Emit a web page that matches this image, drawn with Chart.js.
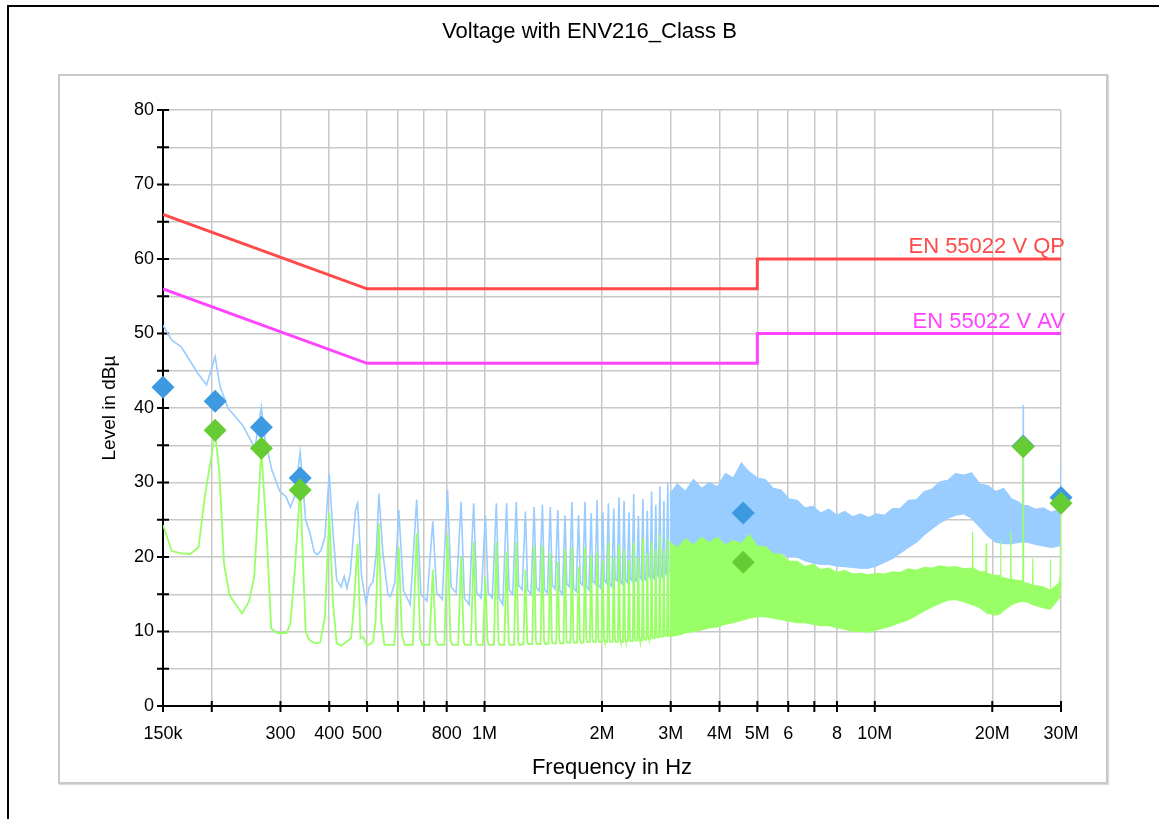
<!DOCTYPE html>
<html>
<head>
<meta charset="utf-8">
<title>Voltage with ENV216_Class B</title>
<script src="https://cdn.jsdelivr.net/npm/chart.js@4/dist/chart.umd.min.js"></script>
<style>
  body { margin: 0; background: #fff; overflow: hidden; }
  #outer { position: absolute; left: 7px; top: 5px; width: 1300px; height: 900px; border: 2px solid #000; }
  #frame { position: absolute; left: 58px; top: 74px; width: 1050px; height: 710px; box-sizing: border-box;
           border: 2px solid #c8c8c8; box-shadow: 1px 1px 1px #dcdcdc; }
  #wrap { position: absolute; left: 0; top: 0; width: 1159px; height: 819px; }
</style>
</head>
<body>
<div id="outer"></div>
<div id="frame"></div>
<div id="wrap"><canvas id="emcChart"></canvas></div>
<script>
// colours
const _QP = '#ff4a4a';
const _AV = '#ff44ff';
const _PEAK = '#99ccff';
const _AVG = '#99ff66';
const _PEAK_MARK = '#3d9ae0';
const _AVG_MARK = '#66cc33';
const FONT = "'Liberation Sans', Arial, Helvetica, sans-serif";

// frequencies in MHz, levels in dBµV
const xTickValues = [0.15, 0.2, 0.3, 0.4, 0.5, 0.6, 0.7, 0.8, 1, 2, 3, 4, 5, 6, 7, 8, 10, 20, 30];
const xTickLabels = ['150k', '', '300', '400', '500', '', '', '800', '1M', '2M', '3M', '4M', '5M', '6', '', '8', '10M', '20M', '30M'];

// limit lines
const limitNames = ['EN 55022 V QP', 'EN 55022 V AV'];
const limitFreq = [0.15, 0.5, 5, 5, 30];
const qpLevel = [66, 56, 56, 60, 60];
const avLevel = [56, 46, 46, 50, 50];

// peak detector trace (resolved harmonics)
const peakFreq = [
  0.150, 0.158, 0.167, 0.184, 0.194, 0.204, 0.210, 0.220, 0.240, 0.258,
  0.268, 0.274, 0.285, 0.299, 0.310, 0.318, 0.326, 0.337, 0.348, 0.357,
  0.366, 0.373, 0.381, 0.390, 0.400, 0.408, 0.418, 0.429, 0.437, 0.444,
  0.453, 0.467, 0.473, 0.484, 0.497, 0.507, 0.518, 0.528, 0.536, 0.549,
  0.566, 0.574, 0.589,
  0.603, 0.620, 0.645, 0.670, 0.687, 0.712, 0.737, 0.754, 0.779, 0.804, 0.821, 0.846, 0.871, 0.888, 0.913, 0.938, 0.955, 0.980,
  1.005, 1.022, 1.047, 1.072, 1.089, 1.114, 1.139, 1.156, 1.181, 1.206, 1.223, 1.248, 1.273, 1.290, 1.315, 1.340, 1.357, 1.382,
  1.407, 1.424, 1.449, 1.474, 1.491, 1.516, 1.541, 1.558, 1.583, 1.608, 1.625, 1.650, 1.675, 1.692, 1.717, 1.742, 1.759, 1.784,
  1.809, 1.826, 1.851, 1.876, 1.893, 1.918, 1.943, 1.960, 1.985, 2.010, 2.027, 2.052, 2.077, 2.094, 2.119, 2.144, 2.161, 2.186,
  2.211, 2.228, 2.253, 2.278, 2.295, 2.320, 2.345, 2.362, 2.387, 2.412, 2.429, 2.454, 2.479, 2.496, 2.521, 2.546, 2.563, 2.588,
  2.613, 2.630, 2.655, 2.680, 2.697, 2.722, 2.747, 2.764, 2.789, 2.814, 2.831, 2.856, 2.881, 2.898, 2.923, 2.948, 2.965
];
const peakLevel = [
  51.1, 49.1, 48.2, 44.7, 43.1, 46.9, 42.9, 40.0, 37.7, 34.6,
  40.1, 35.7, 31.7, 28.8, 28.1, 26.7, 28.1, 34.1, 25.0, 23.2,
  20.7, 20.3, 20.9, 22.7, 31.2, 24.1, 16.9, 16.0, 17.4, 15.8,
  17.8, 26.3, 27.2, 17.4, 13.8, 16.0, 16.7, 20.5, 28.5, 20.5,
  14.9, 14.7, 16.5,
  26.3, 15.5, 13.6, 27.7, 15.0, 14.1, 24.8, 15.2, 14.3, 29.0, 16.0, 15.2, 27.4, 14.5, 13.6, 27.2, 15.2, 14.5,
  25.6, 15.2, 14.5, 27.2, 14.5, 13.6, 27.2, 15.6, 15.0, 27.4, 16.2, 15.6, 26.1, 15.6, 15.0, 26.7, 15.9, 15.4,
  27.0, 15.6, 15.2, 26.7, 16.2, 15.7, 26.3, 15.5, 15.0, 25.6, 16.4, 16.0, 27.4, 15.8, 15.4, 25.6, 16.6, 16.2,
  27.4, 16.0, 15.6, 25.9, 16.8, 16.4, 27.6, 16.2, 15.8, 26.0, 16.9, 16.5, 27.2, 16.4, 16.0, 26.5, 17.0, 16.8,
  28.0, 16.8, 16.4, 27.5, 17.0, 16.6, 26.0, 17.2, 16.8, 28.5, 17.0, 16.7, 25.5, 17.4, 17.0, 27.8, 17.2, 16.9,
  26.2, 17.6, 17.2, 28.8, 17.4, 17.1, 27.0, 17.8, 17.4, 29.5, 17.6, 17.3, 27.5, 18.0, 17.6, 30.0, 17.8
];

// peak detector trace, dense part drawn as a band
const peakBandFreq = [
  2.98, 3.12, 3.27, 3.43, 3.6, 3.77, 3.95, 4.14, 4.34, 4.55,
  4.77, 5.0, 5.24, 5.49, 5.75, 6.03, 6.32, 6.62, 6.94, 7.27,
  7.62, 7.99, 8.37, 8.77, 9.19, 9.64, 10.1, 10.6, 11.1, 11.6,
  12.2, 12.8, 13.4, 14.0, 14.7, 15.4, 16.1, 16.9, 17.7, 18.6,
  19.5, 20.4, 21.4, 22.4, 23.5, 23.95, 24.0, 24.05, 24.6, 25.8,
  27.0, 28.3, 29.7, 29.85, 30
];
const peakBandHigh = [
  28.4, 29.8, 28.8, 30.4, 29.2, 30.0, 29.4, 31.2, 30.6, 32.6,
  31.4, 30.6, 30.4, 29.2, 29.0, 27.8, 27.6, 26.6, 26.8, 25.9,
  26.4, 25.6, 26.1, 25.4, 25.8, 25.3, 25.8, 25.6, 26.5, 26.5,
  27.6, 27.7, 28.8, 29.1, 30.1, 30.3, 31.2, 31.0, 31.3, 29.8,
  29.6, 28.8, 29.2, 27.8, 27.3, 26.9, 40.4, 26.9, 26.9, 26.4,
  26.6, 26.0, 26.4, 26.0, 32.9
];
const peakBandLow = [
  17.5, 17.3, 18.0, 18.0, 18.5, 19.0, 19.0, 19.5, 20.0, 20.5,
  20.8, 21.0, 21.0, 20.5, 20.5, 20.0, 20.0, 19.5, 19.2, 19.0,
  19.0, 18.8, 18.7, 18.6, 18.5, 18.5, 18.8, 19.3, 19.8, 20.5,
  21.3, 22.0, 23.0, 23.8, 24.6, 25.2, 25.6, 25.8, 25.2, 24.0,
  22.8, 22.0, 21.8, 21.8, 22.0, 22.0, 22.0, 22.0, 22.0, 21.7,
  21.5, 21.3, 21.5, 21.5, 22.0
];

// average detector trace (resolved harmonics)
const avgFreq = [
  0.150, 0.158, 0.167, 0.176, 0.185, 0.192, 0.204, 0.209, 0.215, 0.222,
  0.239, 0.249, 0.257, 0.268, 0.277, 0.284, 0.294, 0.311, 0.318, 0.326,
  0.337, 0.348, 0.355, 0.367, 0.379, 0.390, 0.400, 0.409, 0.418, 0.429,
  0.442, 0.455, 0.461, 0.473, 0.481, 0.488, 0.500, 0.518, 0.526, 0.536,
  0.544, 0.554, 0.587, 0.592,
  0.603, 0.614, 0.625, 0.655, 0.670, 0.684, 0.692, 0.722, 0.737, 0.750, 0.760, 0.789,
  0.804, 0.818, 0.827, 0.856, 0.871, 0.885, 0.894, 0.923, 0.938, 0.952, 0.961, 0.990,
  1.005, 1.018, 1.028, 1.057, 1.072, 1.086, 1.095, 1.124, 1.139, 1.153, 1.162, 1.191,
  1.206, 1.220, 1.229, 1.258, 1.273, 1.287, 1.296, 1.325, 1.340, 1.354, 1.363, 1.392,
  1.407, 1.421, 1.430, 1.459, 1.474, 1.488, 1.497, 1.526, 1.541, 1.555, 1.564, 1.593,
  1.608, 1.622, 1.631, 1.660, 1.675, 1.689, 1.698, 1.727, 1.742, 1.756, 1.765, 1.794,
  1.809, 1.823, 1.832, 1.861, 1.876, 1.890, 1.899, 1.928, 1.943, 1.957, 1.966, 1.995,
  2.010, 2.024, 2.033, 2.062, 2.077, 2.091, 2.100, 2.129, 2.144, 2.158, 2.167, 2.196,
  2.211, 2.225, 2.234, 2.263, 2.278, 2.292, 2.301, 2.330, 2.345, 2.359, 2.368, 2.397,
  2.412, 2.426, 2.435, 2.464, 2.479, 2.493, 2.502, 2.531, 2.546, 2.560, 2.569, 2.598,
  2.613, 2.627, 2.636, 2.665, 2.680, 2.694, 2.703, 2.732, 2.747, 2.761, 2.770, 2.799,
  2.814, 2.828, 2.837, 2.866, 2.881, 2.895, 2.904, 2.933, 2.948, 2.962, 2.975
];
const avgLevel = [
  24.3, 20.8, 20.5, 20.4, 21.3, 28.1, 36.6, 31.7, 19.1, 14.9,
  12.4, 14.0, 17.4, 34.4, 22.3, 10.4, 9.8, 9.8, 11.1, 17.8,
  29.4, 10.0, 8.9, 8.4, 8.5, 12.0, 25.9, 13.8, 8.4, 8.1,
  8.6, 9.1, 12.4, 21.8, 9.1, 9.3, 8.1, 8.6, 11.5, 24.5,
  11.3, 8.2, 8.2, 10.5,
  21.3, 9.5, 8.2, 8.2, 23.2, 9.0, 8.2, 8.2, 18.3, 8.8, 8.2, 8.2,
  23.0, 8.8, 8.2, 8.2, 20.1, 8.5, 8.2, 8.2, 22.0, 8.6, 8.2, 8.2,
  17.3, 8.6, 8.2, 8.2, 22.0, 8.6, 8.2, 8.2, 20.7, 8.6, 8.2, 8.2,
  22.0, 8.6, 8.2, 8.3, 18.3, 8.6, 8.3, 8.3, 21.5, 8.7, 8.3, 8.3,
  21.5, 8.7, 8.3, 8.4, 20.5, 8.7, 8.4, 8.4, 19.4, 8.8, 8.4, 8.4,
  21.0, 8.8, 8.5, 8.5, 21.3, 8.8, 8.5, 8.5, 18.7, 8.9, 8.5, 8.5,
  21.3, 8.9, 8.6, 8.6, 20.1, 9.0, 8.6, 8.6, 20.5, 9.0, 8.6, 8.6,
  19.5, 9.0, 8.6, 8.6, 22.0, 9.0, 8.6, 8.6, 20.0, 9.0, 8.6, 8.6,
  21.5, 9.0, 8.6, 8.6, 21.0, 9.1, 8.7, 8.7, 19.5, 9.1, 8.7, 8.7,
  22.0, 9.2, 8.8, 8.8, 20.0, 9.2, 8.8, 8.8, 22.5, 9.3, 8.9, 8.9,
  20.5, 9.3, 9.0, 9.0, 22.0, 9.4, 9.1, 9.1, 21.0, 9.5, 9.2, 9.2,
  23.0, 9.6, 9.3, 9.3, 21.0, 9.7, 9.4, 9.4, 22.5, 9.6, 9.3
];

// average detector trace, dense part drawn as a band
const avgBandFreq = [
  2.98, 3.12, 3.27, 3.43, 3.6, 3.77, 3.95, 4.14, 4.34, 4.55,
  4.77, 5.0, 5.24, 5.49, 5.75, 6.03, 6.32, 6.62, 6.94, 7.27,
  7.62, 7.99, 8.37, 8.77, 9.19, 9.64, 10.1, 10.6, 11.1, 11.6,
  12.2, 12.8, 13.4, 14.0, 14.7, 15.4, 16.1, 16.9, 17.75, 17.8,
  17.85, 18.6, 19.25, 19.3, 19.35, 20.4, 20.95, 21.0, 21.05, 22.25,
  22.3, 22.35, 23.5, 23.95, 24.0, 24.05, 24.6, 25.35, 25.4, 25.45,
  27.0, 28.15, 28.2, 28.25, 29.7, 29.85, 30
];
const avgBandHigh = [
  22.0, 21.2, 22.4, 21.6, 22.6, 21.9, 22.6, 21.6, 22.2, 21.8,
  23.0, 21.4, 21.4, 20.4, 20.4, 19.4, 19.4, 18.7, 19.0, 18.3,
  18.5, 17.9, 18.2, 17.7, 17.8, 17.6, 17.8, 17.7, 18.0, 17.9,
  18.4, 18.2, 18.6, 18.5, 18.8, 18.6, 18.7, 18.4, 18.5, 23.4,
  18.5, 18.0, 18.0, 21.8, 17.8, 17.5, 17.5, 22.1, 17.3, 17.0,
  23.4, 17.0, 16.8, 16.8, 34.6, 16.5, 16.5, 16.2, 19.8, 16.2,
  16.0, 15.5, 19.7, 15.5, 16.5, 17.5, 27.2
];
const avgBandLow = [
  9.3, 9.5, 9.8, 10.0, 10.2, 10.5, 10.6, 11.0, 11.2, 11.5,
  11.8, 12.0, 12.0, 11.8, 11.6, 11.4, 11.2, 11.2, 11.0, 10.8,
  10.8, 10.5, 10.3, 10.0, 10.0, 9.9, 10.2, 10.5, 10.8, 11.2,
  11.6, 12.2, 12.8, 13.3, 13.8, 14.2, 14.3, 14.0, 13.6, 13.6,
  13.6, 13.2, 12.6, 12.6, 12.5, 12.2, 12.4, 12.4, 12.5, 13.5,
  13.5, 13.6, 14.0, 14.0, 14.0, 14.0, 14.0, 13.6, 13.6, 13.6,
  13.2, 13.0, 13.0, 13.0, 14.5, 15.0, 16.0
];

// final measurement markers
const peakMarkFreq = [0.150, 0.204, 0.268, 0.337, 4.6, 24.0, 30.0];
const peakMarkLevel = [42.8, 40.9, 37.4, 30.6, 25.9, 34.9, 28.0];
const avgMarkFreq = [0.204, 0.268, 0.337, 4.6, 24.0, 30.0];
const avgMarkLevel = [37.0, 34.6, 29.0, 19.3, 34.8, 27.2];

function points(xs, ys) {
    return xs.map((x, i) => ({ x: x, y: ys[i] }));
}

function traceLine(data, color, width) {
    return {
        data: data,
        borderColor: color,
        borderWidth: width,
        pointRadius: 0,
        tension: 0,
        fill: false
    };
}

function markers(data, color) {
    return {
        data: data,
        showLine: false,
        pointStyle: 'rectRot',
        pointRadius: 11.5,
        pointBackgroundColor: color,
        pointBorderWidth: 0,
        clip: false
    };
}

// black tick marks crossing the axes
const axisTicks = {
    id: 'axisTicks',
    beforeDatasetsDraw(chart) {
        const { ctx, chartArea, scales } = chart;
        ctx.save();
        ctx.strokeStyle = '#000';
        ctx.lineWidth = 2;
        ctx.beginPath();
        scales.y.ticks.forEach(t => {
            const py = scales.y.getPixelForValue(t.value);
            ctx.moveTo(chartArea.left - 6, py);
            ctx.lineTo(chartArea.left + 6, py);
        });
        scales.x.ticks.forEach(t => {
            const px = scales.x.getPixelForValue(t.value);
            ctx.moveTo(px, chartArea.bottom - 5);
            ctx.lineTo(px, chartArea.bottom + 6);
        });
        ctx.stroke();
        ctx.restore();
    }
};

// names written above the right end of the limit lines
const limitLabels = {
    id: 'limitLabels',
    afterDatasetsDraw(chart) {
        const { ctx, scales } = chart;
        const xEnd = scales.x.getPixelForValue(limitFreq[limitFreq.length - 1]);
        const ends = [qpLevel[qpLevel.length - 1], avLevel[avLevel.length - 1]];
        const colors = [_QP, _AV];
        ctx.save();
        ctx.font = '22px ' + FONT;
        ctx.textAlign = 'right';
        ctx.textBaseline = 'bottom';
        limitNames.forEach((name, i) => {
            ctx.fillStyle = colors[i];
            ctx.fillText(name, xEnd + 4, scales.y.getPixelForValue(ends[i]) - 1);
        });
        ctx.restore();
    }
};

Chart.defaults.font.family = FONT;
Chart.defaults.color = '#000';

const ctx = document.getElementById('emcChart').getContext('2d');
const emcChart = new Chart(ctx, {
    type: 'line',
    data: {
        datasets: [
            markers(points(avgMarkFreq, avgMarkLevel), _AVG_MARK),
            markers(points(peakMarkFreq, peakMarkLevel), _PEAK_MARK),
            traceLine(points(limitFreq, qpLevel), _QP, 3),
            traceLine(points(limitFreq, avLevel), _AV, 3),
            traceLine(points(avgFreq, avgLevel), _AVG, 1.8),
            traceLine(points(avgBandFreq, avgBandHigh), _AVG, 1.2),
            Object.assign(traceLine(points(avgBandFreq, avgBandLow), _AVG, 1.2), { fill: '-1', backgroundColor: _AVG }),
            traceLine(points(peakFreq, peakLevel), _PEAK, 1.6),
            traceLine(points(peakBandFreq, peakBandHigh), _PEAK, 1.2),
            Object.assign(traceLine(points(peakBandFreq, peakBandLow), _PEAK, 1.2), { fill: '-1', backgroundColor: _PEAK })
        ]
    },
    options: {
        responsive: true,
        maintainAspectRatio: false,
        animation: false,
        events: [],
        layout: {
            padding: { left: 20, right: 0, top: 0, bottom: 0 }
        },
        plugins: {
            legend: { display: false },
            tooltip: { enabled: false },
            title: {
                display: true,
                text: 'Voltage with ENV216_Class B',
                color: '#000',
                font: { size: 22, weight: 'normal' },
                padding: { top: 19, bottom: 64.6 }
            }
        },
        scales: {
            x: {
                type: 'logarithmic',
                min: 0.15,
                max: 30,
                afterBuildTicks(scale) {
                    scale.ticks = xTickValues.map(v => ({ value: v }));
                },
                afterFit(scale) {
                    scale.height = 113;
                },
                ticks: {
                    autoSkip: false,
                    maxRotation: 0,
                    padding: 17,
                    font: { size: 18 },
                    callback: (value, index) => xTickLabels[index]
                },
                grid: { color: '#c8c8c8', lineWidth: 1.5, drawTicks: false },
                border: { color: '#000', width: 2 },
                title: {
                    display: true,
                    text: 'Frequency in Hz',
                    font: { size: 22 },
                    padding: { top: 0, bottom: 37.8 }
                }
            },
            y: {
                min: 0,
                max: 80,
                afterFit(scale) {
                    scale.width = 143;
                },
                ticks: {
                    stepSize: 5,
                    padding: 9,
                    font: { size: 18 },
                    callback: v => (v % 10 === 0 ? String(v) : '')
                },
                grid: { color: '#c8c8c8', lineWidth: 1.5, drawTicks: false },
                border: { color: '#000', width: 2 },
                title: {
                    display: true,
                    text: 'Level in dBµ',
                    font: { size: 19 },
                    padding: { top: 78.6, bottom: 0 }
                }
            },
            yRight: {
                position: 'right',
                display: true,
                afterFit(scale) {
                    scale.width = 98;
                },
                ticks: { display: false },
                grid: { display: false, drawTicks: false },
                border: { display: false }
            }
        }
    },
    plugins: [axisTicks, limitLabels]
});
</script>
</body>
</html>
